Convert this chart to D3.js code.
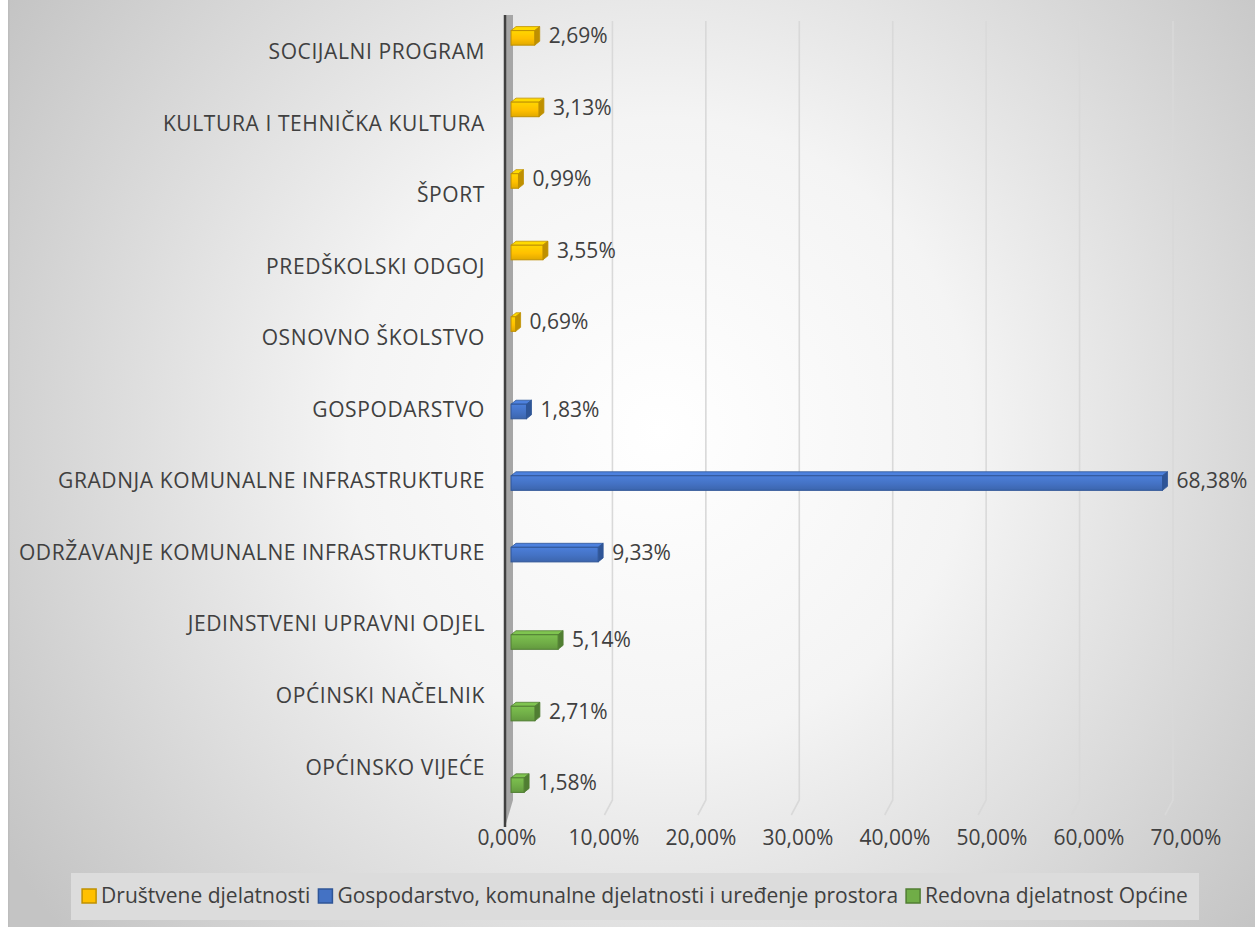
<!DOCTYPE html>
<html><head><meta charset="utf-8">
<script src="https://cdn.jsdelivr.net/npm/d3@7"></script>
<style>body{margin:0;background:#fff;}svg{display:block;font-family:"Open Sans",sans-serif;}</style>
</head><body><svg id="c" width="1255" height="927"></svg>
<script>
const categories = ["SOCIJALNI PROGRAM","KULTURA I TEHNIČKA KULTURA","ŠPORT","PREDŠKOLSKI ODGOJ","OSNOVNO ŠKOLSTVO","GOSPODARSTVO","GRADNJA KOMUNALNE INFRASTRUKTURE","ODRŽAVANJE KOMUNALNE INFRASTRUKTURE","JEDINSTVENI UPRAVNI ODJEL","OPĆINSKI NAČELNIK","OPĆINSKO VIJEĆE"];
const values = [2.69,3.13,0.99,3.55,0.69,1.83,68.38,9.33,5.14,2.71,1.58];
const seriesOf = [0,0,0,0,0,1,1,1,2,2,2];
const seriesNames = ["Društvene djelatnosti","Gospodarstvo, komunalne djelatnosti i uređenje prostora","Redovna djelatnost Općine"];
const seriesColors = ["#FFC000","#4472C4","#70AD47"];
const seriesDark = ["#BF9000","#2F5597","#507E32"];
const ticks = [0,10,20,30,40,50,60,70];

const svg = d3.select("#c");
const defs = svg.append("defs");
const rg = defs.append("radialGradient").attr("id","bg").attr("gradientUnits","userSpaceOnUse")
  .attr("cx",660).attr("cy",430).attr("r",780);
rg.append("stop").attr("offset","0").attr("stop-color","#ffffff");
rg.append("stop").attr("offset","0.4").attr("stop-color","#f4f4f4");
rg.append("stop").attr("offset","1").attr("stop-color","#c4c4c4");
seriesColors.forEach((c,i)=>{
  const g = defs.append("linearGradient").attr("id","bar"+i).attr("x1",0).attr("y1",0).attr("x2",0).attr("y2",1);
  g.append("stop").attr("offset","0").attr("stop-color",d3.color(c).brighter(0.3));
  g.append("stop").attr("offset","0.55").attr("stop-color",c);
  g.append("stop").attr("offset","1").attr("stop-color",d3.color(c).darker(0.35));
});

svg.append("rect").attr("x",8).attr("y",0).attr("width",1247).attr("height",927).attr("fill","url(#bg)");
svg.append("rect").attr("x",8).attr("y",0).attr("width",1.5).attr("height",927).attr("fill","#bdbdbd");

// front plane (bars), back wall (gridlines), floor front (tick labels)
const x = d3.scaleLinear().domain([0,70]).range([509,1178]);
const xBack = d3.scaleLinear().domain([0,70]).range([519,1173]);
const xFloor = d3.scaleLinear().domain([0,70]).range([507,1186]);
const y = d3.scaleBand().domain(categories).range([16,803]);
const ys = d3.scaleBand().domain([0,1,2]).range([-24,24]).padding(0.02);
const depth = 8, floorDrop = 15, plotTop = 15, plotBottom = 800;

const grid = svg.append("g");
ticks.slice(1).forEach(t=>{
  const gx = xBack(t);
  grid.append("path").attr("d",`M${gx},${plotTop+6}L${gx},${plotBottom}L${gx-depth},${plotBottom+floorDrop}`)
    .attr("fill","none").attr("stroke","#d9d9d9").attr("stroke-width",1.6);
});

svg.append("path").attr("d",`M505,${plotTop}L513,${plotTop}L513,${plotBottom}L505,${plotBottom+floorDrop+12}Z`).attr("fill","#a6a6a6");
svg.append("line").attr("x1",505).attr("x2",505).attr("y1",plotTop).attr("y2",plotBottom+floorDrop+12).attr("stroke","#404040").attr("stroke-width",2.5);

const bh = ys.bandwidth(), dx = 5, dy = 4;
const bars = svg.append("g");
categories.forEach((c,i)=>{
  const s = seriesOf[i];
  const yc = y(c) + y.bandwidth()/2 + ys(s) + bh/2;
  const h = bh - 1;
  const y0 = yc - h/2 + 2, x0 = x(0)+2, x1 = x(values[i]);
  bars.append("path").attr("d",`M${x0},${y0}L${x0+dx},${y0-dy}L${x1+dx},${y0-dy}L${x1},${y0}Z`)
    .attr("fill",d3.color(seriesColors[s]).brighter(0.35)).attr("stroke",seriesDark[s]).attr("stroke-width",0.8);
  bars.append("path").attr("d",`M${x1},${y0}L${x1+dx},${y0-dy}L${x1+dx},${y0+h-dy}L${x1},${y0+h}Z`)
    .attr("fill",seriesDark[s]).attr("stroke",seriesDark[s]).attr("stroke-width",0.8);
  bars.append("rect").attr("x",x0).attr("y",y0).attr("width",x1-x0).attr("height",h)
    .attr("fill","url(#bar"+s+")").attr("stroke",seriesDark[s]).attr("stroke-width",1);
  bars.append("text").attr("x",x1+dx+9).attr("y",yc).attr("dy","0.35em")
    .attr("font-size",21).attr("fill","#404040")
    .text(values[i].toFixed(2).replace(".",",")+"%");
});

svg.append("g").selectAll("text").data(categories).join("text")
  .attr("x",485).attr("y",d=>y(d)+y.bandwidth()/2).attr("dy","0.35em").attr("text-anchor","end")
  .attr("font-size",21).attr("letter-spacing","0.6px").attr("fill","#404040").text(d=>d);

svg.append("g").selectAll("text").data(ticks).join("text")
  .attr("x",d=>xFloor(d)).attr("y",838).attr("dy","0.35em").attr("text-anchor","middle")
  .attr("font-size",21).attr("fill","#404040").text(d=>d.toFixed(2).replace(".",",")+"%");

svg.append("rect").attr("x",71).attr("y",873).attr("width",1128).attr("height",47).attr("fill","#dcdcdc");
const leg = svg.append("g");
let lx = 0;
seriesNames.forEach((n,i)=>{
  leg.append("rect").attr("x",lx).attr("y",889).attr("width",14).attr("height",14)
    .attr("fill",seriesColors[i]).attr("stroke",seriesDark[i]).attr("stroke-width",1.5);
  const t = leg.append("text").attr("x",lx+19).attr("y",896).attr("dy","0.35em")
    .attr("font-size",21).attr("fill","#404040").text(n);
  lx += 19 + t.node().getComputedTextLength() + 8;
});
const legW = lx - 8;
leg.attr("transform",`translate(${635 - legW/2},0)`);
</script></body></html>
